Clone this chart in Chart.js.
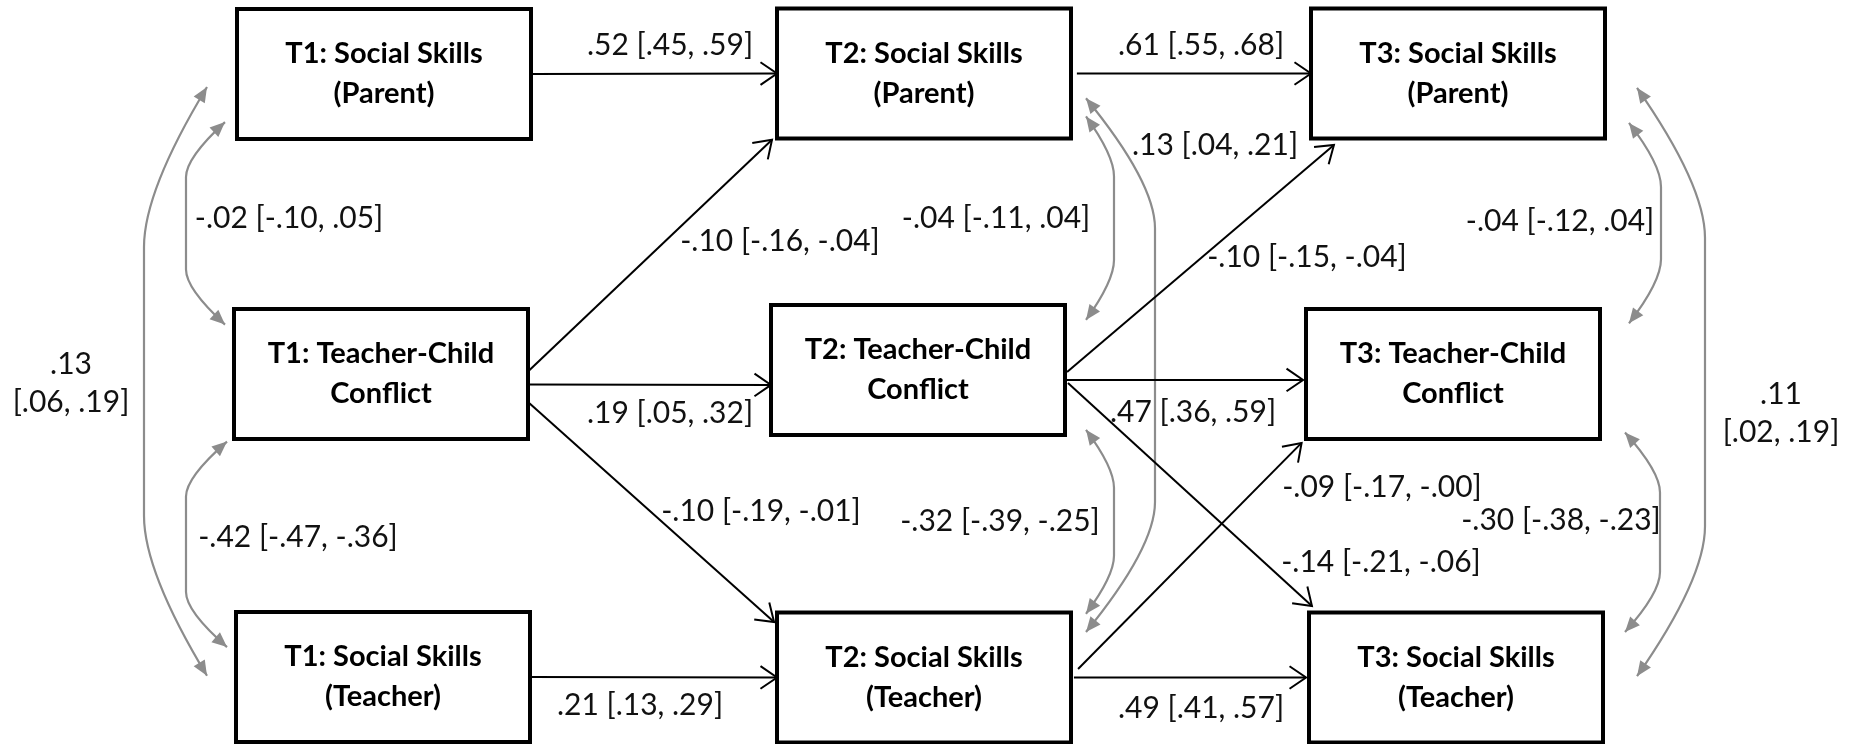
<!DOCTYPE html>
<html>
<head>
<meta charset="utf-8" />
<script src="https://cdn.jsdelivr.net/npm/chart.js@4.4.1/dist/chart.umd.min.js"></script>
<style>
  html, body { margin: 0; padding: 0; background: #fff; }
  #wrap { width: 1856px; height: 744px; position: relative; }
</style>
</head>
<body>
<div id="wrap"><canvas id="diagram"></canvas></div>
<script>
// ---- data ----
const nodeLabels = [
  ["T1: Social Skills", "(Parent)"],
  ["T1: Teacher-Child", "Conflict"],
  ["T1: Social Skills", "(Teacher)"],
  ["T2: Social Skills", "(Parent)"],
  ["T2: Teacher-Child", "Conflict"],
  ["T2: Social Skills", "(Teacher)"],
  ["T3: Social Skills", "(Parent)"],
  ["T3: Teacher-Child", "Conflict"],
  ["T3: Social Skills", "(Teacher)"],
];

// directed paths (from -> to), estimate with 95% CI
const pathFrom = [0, 3, 1, 1, 1, 2, 4, 4, 4, 5, 5];
const pathTo = [3, 6, 3, 4, 5, 5, 6, 7, 8, 7, 8];
const pathEst = [0.52, 0.61, -0.10, 0.19, -0.10, 0.21, -0.10, 0.47, -0.14, -0.09, 0.49];
const pathLow = [0.45, 0.55, -0.16, 0.05, -0.19, 0.13, -0.15, 0.36, -0.21, -0.17, 0.41];
const pathHigh = [0.59, 0.68, -0.04, 0.32, -0.01, 0.29, -0.04, 0.59, -0.06, -0, 0.57];

// covariances (two-headed)
const covFrom = [0, 1, 0, 3, 3, 4, 6, 7, 6];
const covTo = [1, 2, 2, 4, 5, 5, 7, 8, 8];
const covEst = [-0.02, -0.42, 0.13, -0.04, 0.13, -0.32, -0.04, -0.30, 0.11];
const covLow = [-0.10, -0.47, 0.06, -0.11, 0.04, -0.39, -0.12, -0.38, 0.02];
const covHigh = [0.05, -0.36, 0.19, 0.04, 0.21, -0.25, 0.04, -0.23, 0.19];

// ---- layout (data units of the x/y scales) ----
const boxW = 294;
const boxH = 130;
const nodePos = [
  [384, 74], [381, 374], [383, 677],
  [924, 73.5], [918, 370], [924, 677.5],
  [1458, 73.5], [1453, 374], [1456, 677.5],
];
// anchor on each box as fractions of its width / height
const pathAnchors = [
  [1, 0.5, 0, 0.5],
  [1.02, 0.5, 0, 0.5],
  [1, 0.48, -0.017, 1.01],
  [1, 0.58, 0, 0.615],
  [1, 0.715, -0.01, 0.073],
  [1, 0.5, 0, 0.5],
  [1.007, 0.515, 0.078, 1.05],
  [1, 0.577, -0.01, 0.546],
  [1.01, 0.6, 0.01, -0.05],
  [1.024, 0.435, -0.015, 1.03],
  [1.01, 0.5, -0.01, 0.5],
];
const pathLabelPos = [
  [670, 45], [1201, 45], [780, 241], [670, 413], [761, 511], [640, 705],
  [1307, 257], [1193, 412], [1381, 562], [1382, 487], [1201, 708],
];
// side, fy on first box, fy on second box, gap from box edge, offset of the upright, corner length
const covShape = [
  ["left", 0.87, 0.12, 12, 51, 55],
  ["left", 1.02, 0.27, 7, 48, 55],
  ["left", 0.6, 0.49, 30, 93, 160],
  ["right", 0.83, 0.115, 15, 43, 60],
  ["right", 0.69, 0.15, 15, 84, 130],
  ["right", 0.96, 0.01, 21, 49, 58],
  ["right", 0.88, 0.11, 24, 56, 64],
  ["right", 0.95, 0.15, 25, 60, 60],
  ["right", 0.61, 0.49, 32, 100, 150],
];
const covLabelPos = [
  [289, 218, false], [298, 537, false], [71, 383, true],
  [996, 218, false], [1215, 145, false], [1000, 521, false],
  [1560, 221, false], [1561, 520, false], [1781, 413, true],
];

const labelFont = "30px Lato, 'Open Sans', sans-serif";
const boxFont = "bold 29px Lato, 'Open Sans', sans-serif";
const grey = "#8c8c8c";

function fmt(v) {
  const neg = v < 0 || Object.is(v, -0);
  return (neg ? "-" : "") + Math.abs(v).toFixed(2).replace(/^0/, "");
}

function boxOf(i) {
  const [cx, cy] = nodePos[i];
  return { x0: cx - boxW / 2, y0: cy - boxH / 2, x1: cx + boxW / 2, y1: cy + boxH / 2 };
}

function anchor(i, fx, fy) {
  const b = boxOf(i);
  return { x: b.x0 + fx * boxW, y: b.y0 + fy * boxH };
}

const pathLines = pathFrom.map((from, k) => {
  const a = pathAnchors[k];
  return [anchor(from, a[0], a[1]), anchor(pathTo[k], a[2], a[3])];
});

function drawOpenHead(ctx, x, y, angle) {
  const len = 20;
  const spread = 0.6;
  ctx.beginPath();
  ctx.moveTo(x - len * Math.cos(angle - spread), y - len * Math.sin(angle - spread));
  ctx.lineTo(x, y);
  ctx.lineTo(x - len * Math.cos(angle + spread), y - len * Math.sin(angle + spread));
  ctx.stroke();
}

function drawFilledHead(ctx, x, y, angle) {
  const len = 15;
  const half = 6.5;
  const bx = x - len * Math.cos(angle);
  const by = y - len * Math.sin(angle);
  ctx.beginPath();
  ctx.moveTo(x, y);
  ctx.lineTo(bx + half * Math.sin(angle), by - half * Math.cos(angle));
  ctx.lineTo(bx - half * Math.sin(angle), by + half * Math.cos(angle));
  ctx.closePath();
  ctx.fill();
}

const diagramPlugin = {
  id: "pathDiagram",
  beforeDatasetsDraw(chart) {
    const ctx = chart.ctx;
    const sx = chart.scales.x;
    const sy = chart.scales.y;
    const px = (v) => sx.getPixelForValue(v);
    const py = (v) => sy.getPixelForValue(v);

    ctx.save();
    // covariance curves: rounded corner, straight upright, rounded corner
    ctx.strokeStyle = grey;
    ctx.fillStyle = grey;
    ctx.lineWidth = 2.2;
    covFrom.forEach((from, k) => {
      const [side, fy1, fy2, gap, bulge, corner] = covShape[k];
      const b1 = boxOf(from);
      const b2 = boxOf(covTo[k]);
      const edge = side === "left" ? b1.x0 : b1.x1;
      const dir = side === "left" ? -1 : 1;
      const tx = edge + dir * gap;
      const xf = edge + dir * bulge;
      const y1 = b1.y0 + fy1 * boxH;
      const y2 = b2.y0 + fy2 * boxH;
      const c = 0.65 * corner;
      ctx.beginPath();
      ctx.moveTo(px(tx), py(y1));
      ctx.quadraticCurveTo(px(xf), py(y1 + c), px(xf), py(y1 + corner));
      ctx.lineTo(px(xf), py(y2 - corner));
      ctx.quadraticCurveTo(px(xf), py(y2 - c), px(tx), py(y2));
      ctx.stroke();
      drawFilledHead(ctx, px(tx), py(y1), Math.atan2(py(y1) - py(y1 + c), px(tx) - px(xf)));
      drawFilledHead(ctx, px(tx), py(y2), Math.atan2(py(y2) - py(y2 - c), px(tx) - px(xf)));
    });

    // boxes
    ctx.lineWidth = 4;
    ctx.strokeStyle = "#000";
    nodeLabels.forEach((lines, i) => {
      const b = boxOf(i);
      const x = px(b.x0);
      const y = py(b.y0);
      const w = px(b.x1) - x;
      const h = py(b.y1) - y;
      ctx.fillStyle = "#fff";
      ctx.fillRect(x, y, w, h);
      ctx.strokeRect(x, y, w, h);
      ctx.fillStyle = "#000";
      ctx.font = boxFont;
      ctx.textAlign = "center";
      ctx.textBaseline = "middle";
      const cx = px(nodePos[i][0]);
      const cy = py(nodePos[i][1]);
      ctx.fillText(lines[0], cx, cy - 20);
      ctx.fillText(lines[1], cx, cy + 20);
    });
    ctx.restore();
  },
  afterDatasetsDraw(chart) {
    const ctx = chart.ctx;
    const sx = chart.scales.x;
    const sy = chart.scales.y;
    const px = (v) => sx.getPixelForValue(v);
    const py = (v) => sy.getPixelForValue(v);

    ctx.save();
    ctx.strokeStyle = "#000";
    ctx.lineWidth = 2;
    pathLines.forEach(([a, b]) => {
      const ang = Math.atan2(py(b.y) - py(a.y), px(b.x) - px(a.x));
      drawOpenHead(ctx, px(b.x), py(b.y), ang);
    });

    ctx.fillStyle = "#111";
    ctx.font = labelFont;
    ctx.textAlign = "center";
    ctx.textBaseline = "middle";
    pathEst.forEach((v, k) => {
      const [x, y] = pathLabelPos[k];
      ctx.fillText(`${fmt(v)} [${fmt(pathLow[k])}, ${fmt(pathHigh[k])}]`, px(x), py(y));
    });
    covEst.forEach((v, k) => {
      const [x, y, split] = covLabelPos[k];
      const ci = `[${fmt(covLow[k])}, ${fmt(covHigh[k])}]`;
      if (split) {
        ctx.fillText(fmt(v), px(x), py(y - 19));
        ctx.fillText(ci, px(x), py(y + 19));
      } else {
        ctx.fillText(`${fmt(v)} ${ci}`, px(x), py(y));
      }
    });
    ctx.restore();
  },
};

new Chart(document.getElementById("diagram"), {
  type: "scatter",
  data: {
    datasets: pathLines.map((pts, k) => ({
      label: `path ${k + 1}`,
      data: pts,
      showLine: true,
      borderColor: "#000",
      borderWidth: 2,
      pointRadius: 0,
      clip: false,
    })),
  },
  options: {
    responsive: true,
    maintainAspectRatio: false,
    devicePixelRatio: 1,
    animation: false,
    events: [],
    layout: { padding: 0 },
    plugins: {
      legend: { display: false },
      tooltip: { enabled: false },
    },
    scales: {
      x: { type: "linear", min: 0, max: 1856, display: false },
      y: { type: "linear", min: 0, max: 744, reverse: true, display: false },
    },
  },
  plugins: [diagramPlugin],
});
</script>
</body>
</html>
